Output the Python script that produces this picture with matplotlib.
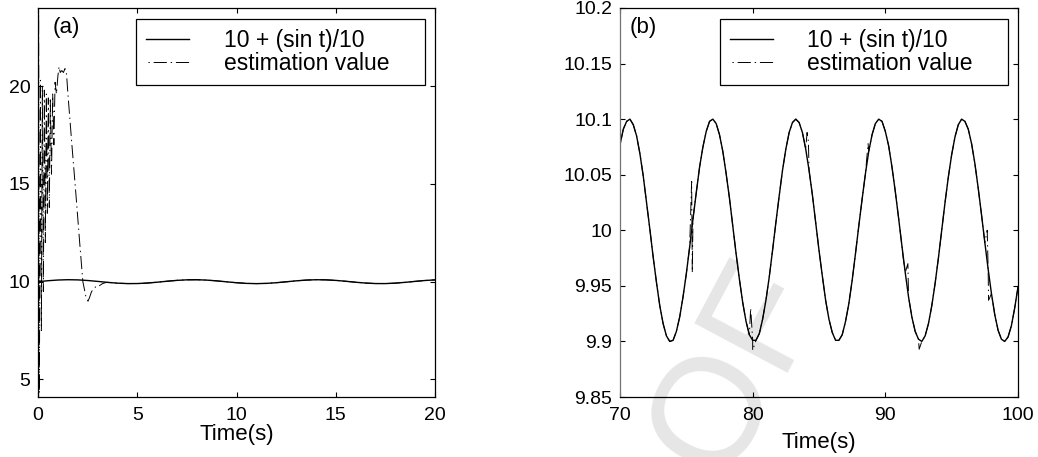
import numpy as np
import matplotlib.pyplot as plt

plt.rcParams['font.family'] = ['Liberation Sans', 'DejaVu Sans']

# ---- panel (a): 0-20 s ----
t_a = np.arange(0, 20.01, 0.5)
ref_a = [10.000, 10.048, 10.084, 10.100, 10.091, 10.060, 10.014, 9.965, 9.924, 9.902,
         9.904, 9.929, 9.972, 10.022, 10.066, 10.094, 10.099, 10.080, 10.041, 9.992,
         9.946, 9.912, 9.900, 9.912, 9.946, 9.993, 10.042, 10.080, 10.099, 10.093,
         10.065, 10.021, 9.971, 9.929, 9.904, 9.902, 9.925, 9.966, 10.015, 10.060,
         10.091]

# transient part of the estimate
est_a_t = [0.00, 0.03, 0.07, 0.12, 0.17, 0.22, 0.27, 0.32, 0.37, 0.42, 0.47, 0.52,
           0.57, 0.62, 0.68, 0.74, 0.80, 0.86, 0.93, 1.00, 1.06, 1.12, 1.20, 1.28,
           1.36, 1.44, 1.50, 1.70, 1.90, 2.10, 2.26, 2.32, 2.42, 2.52, 2.60, 2.70,
           2.80, 2.95, 3.10, 3.25, 3.40]
est_a_y = [10.0, 23.7, 4.3, 20.3, 7.5, 20.0, 9.5, 19.8, 12.0, 19.6, 13.5, 19.4,
           13.8, 19.3, 15.5, 19.6, 17.0, 20.2, 19.6, 20.5, 21.0, 20.7, 20.8, 20.7,
           20.9, 20.6, 19.7, 17.1, 14.6, 12.0, 10.0, 9.7, 9.2, 9.0, 9.2, 9.5,
           9.6, 9.8, 9.8, 9.9, 9.95]

# ---- panel (b): 70-100 s ----
t_b = np.arange(70, 100.001, 0.25)
ref_b = [10.077, 10.091, 10.098, 10.100, 10.095, 10.085, 10.069, 10.049, 10.025, 10.001,
         9.976, 9.953, 9.932, 9.916, 9.905, 9.900, 9.901, 9.909, 9.922, 9.940,
         9.961, 9.985,
         10.010, 10.034, 10.057, 10.075, 10.089, 10.098, 10.100, 10.096, 10.086, 10.071,
         10.051, 10.029, 10.004, 9.979, 9.956, 9.935, 9.918, 9.906, 9.901, 9.901,
         9.907, 9.920, 9.937, 9.958, 9.982,
         10.007, 10.031, 10.054, 10.073, 10.088, 10.097, 10.100, 10.097, 10.088, 10.073,
         10.054, 10.032, 10.007, 9.982, 9.959, 9.937, 9.920, 9.908, 9.901, 9.901,
         9.906, 9.918, 9.934, 9.955, 9.979,
         10.004, 10.028, 10.051, 10.071, 10.086, 10.096, 10.100, 10.098, 10.089, 10.076,
         10.057, 10.035, 10.011, 9.986, 9.962, 9.940, 9.922, 9.909, 9.902, 9.900,
         9.905, 9.916, 9.932, 9.952, 9.975,
         10.000, 10.025, 10.048, 10.068, 10.084, 10.095, 10.100, 10.098, 10.091, 10.078,
         10.060, 10.038, 10.014, 9.989, 9.965, 9.943, 9.924, 9.910, 9.902, 9.900,
         9.904, 9.914, 9.930, 9.949]

# spots where the estimate leaves the reference curve
glitch_t = [75.40, 75.45, 79.85, 80.00, 84.10, 84.20, 88.70, 91.35, 91.70, 92.55, 97.68, 97.78]
glitch_y = [10.044, 9.962, 9.930, 9.892, 10.088, 10.080, 10.078, 9.975, 9.970, 9.893, 10.000, 9.937]

# build estimate series
ea_t = np.concatenate([est_a_t, t_a[t_a >= 3.5]])
ea_y = np.concatenate([est_a_y, np.array(ref_a)[t_a >= 3.5]])

eb_t = np.concatenate([t_b, glitch_t])
eb_y = np.concatenate([ref_b, glitch_y])
order = np.argsort(eb_t, kind='stable')
eb_t, eb_y = eb_t[order], eb_y[order]

dashdot = (15.5, (13.5, 4, 1.4, 4))
tick_fs = 14
lab_fs = 16
leg_fs = 16.5

fig = plt.figure(figsize=(10.38, 4.57), dpi=100)
ax1 = fig.add_axes([38/1038, 60/457, 397/1038, 389/457])
ax2 = fig.add_axes([620/1038, 60/457, 398/1038, 389/457])

for ax in (ax1, ax2):
    ax.set_facecolor('none')
    ax.tick_params(direction='in', top=True, right=True, length=3.5, width=0.8,
                   labelsize=tick_fs)
    ax.tick_params(axis='x', pad=7)
    ax.tick_params(axis='y', pad=5.5)
    for s in ax.spines.values():
        s.set_linewidth(0.9)

ax1.plot(t_a, ref_a, color='black', lw=1.0, label='10 + (sin t)/10')
ax1.plot(ea_t, ea_y, color='black', lw=0.7, linestyle=dashdot, label='estimation value')
ax1.set_xlim(0, 20)
ax1.set_ylim(4.1, 24)
ax1.set_xticks([0, 5, 10, 15, 20])
ax1.set_yticks([5, 10, 15, 20])
ax1.set_xlabel('Time(s)', fontsize=lab_fs, labelpad=0)
ax1.text(15/397, 1 - 20/389, '(a)', transform=ax1.transAxes, fontsize=lab_fs, va='center')

ax2.plot(t_b, ref_b, color='black', lw=1.0, label='10 + (sin t)/10')
ax2.plot(eb_t, eb_y, color='black', lw=0.7, linestyle=dashdot, label='estimation value')
ax2.set_xlim(70, 100)
ax2.set_ylim(9.85, 10.2)
ax2.set_xticks([70, 80, 90, 100])
ax2.set_yticks([9.85, 9.9, 9.95, 10, 10.05, 10.1, 10.15, 10.2])
ax2.set_yticklabels(['9.85', '9.9', '9.95', '10', '10.05', '10.1', '10.15', '10.2'])
ax2.set_xlabel('Time(s)', fontsize=lab_fs, labelpad=5.8)
ax2.text(10/398, 1 - 20/389, '(b)', transform=ax2.transAxes, fontsize=lab_fs, va='center')
ax2.spines['left'].set_color('0.45')

# legend boxes: left/right edges (axes fractions)
leg_box = {ax1: (0.247, 0.728), ax2: (0.251, 0.724)}
for ax in (ax1, ax2):
    x0, w = leg_box[ax]
    leg = ax.legend(loc='upper left', bbox_to_anchor=(x0, 0.9717, w, 0.0), mode='expand',
                    fontsize=leg_fs, frameon=True, fancybox=False, edgecolor='black',
                    framealpha=1, borderpad=0.42, borderaxespad=0,
                    handlelength=1.9, handletextpad=1.5, labelspacing=0.02)
    leg.get_frame().set_linewidth(0.9)

# faint watermark behind the plots
fig.text(819/1038, 1 - 289/457, 'PROOF', fontsize=110, color='#e6e6e6', rotation=62,
         rotation_mode='anchor', ha='right', va='baseline', zorder=-1)

fig.savefig('out.png', dpi=100)
